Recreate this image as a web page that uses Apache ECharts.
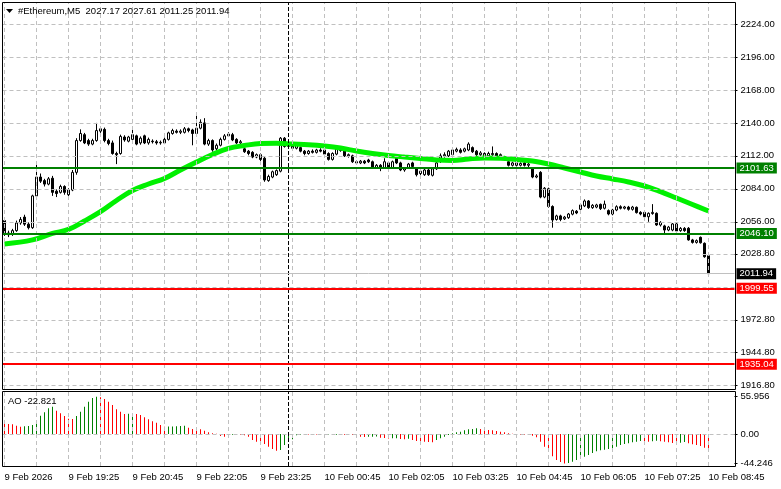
<!DOCTYPE html>
<html><head><meta charset="utf-8">
<script src="https://cdn.jsdelivr.net/npm/echarts@6/dist/echarts.min.js"></script>
<style>html,body{margin:0;padding:0;background:#fff}#c{width:781px;height:489px}</style>
</head><body><div id="c"></div>
<script>
const symbolName = '#Ethereum,M5';
const openPrices = [
2057,2046.5,2045.5,2048.5,2055,2060,2054,2051,2078,2094,
2091,2088,2093,2082,2081,2086,2079,2083,2098,2125,
2130,2125,2122,2125,2133,2134.5,2125,2123,2114,2114,
2128,2124.5,2126,2129,2123,2129,2123,2124.5,2124,2123,
2123,2126,2131,2133,2132,2132,2135,2134,2131,2135.5,
2140,2122,2125,2118,2121,2126,2129,2130,2126,2123,
2118,2116,2115,2111,2113,2110,2091,2094,2096,2099,
2127,2120,2122,2118.5,2119,2116,2114,2116,2115,2117,
2117,2114,2109,2113.5,2118,2117,2112,2112,2107,2106,
2107.5,2108.5,2107,2102,2104,2102,2106,2102,2110,2106,
2100,2102,2106,2101,2097,2096,2100,2095.5,2101,2110,
2112,2112,2113,2116,2117,2116,2117,2119,2116,2113,
2114,2112,2113,2114,2112,2111,2107,2104,2106,2104,
2106,2104,2101,2094,2098,2077,2084,2069,2058,2061,
2058.5,2059.5,2062.5,2065,2066.6,2069.5,2073.7,2068,2068.5,2070.8,
2067.5,2065.5,2062.6,2066,2068.8,2067.5,2068.5,2066.6,2068.3,2064,
2064,2060.3,2063,2063.2,2053.3,2052.5,2049,2049,2054.2,2048.5,
2050.4,2050.5,2040.6,2038.5,2042.8,2037.7,2027.17];
const closePrices = [
2046.3,2045,2048.5,2055,2058,2054,2051,2078,2094,2090.5,
2088,2092.5,2081,2080,2086,2081,2083,2098,2125,2131,
2123,2122,2125,2133.5,2135,2125,2122.5,2114,2113,2128.5,
2125.5,2128,2130,2122,2127,2123,2126,2124,2123,2123.5,
2126,2131.5,2133.5,2132,2133,2135,2133.5,2131,2135.5,2140.5,
2122,2125,2117,2121,2126,2129,2130.5,2125.5,2123,2124,
2115.5,2114,2111,2113,2109,2091.5,2094.5,2098.5,2099.5,2127,
2120,2122.5,2118.5,2121.5,2116,2114,2116,2115,2117,2116,
2113.5,2109,2114,2118,2116.5,2112,2113,2107,2106,2107.5,
2106,2107,2102,2104,2101.5,2107,2102,2107,2106,2100,
2101.5,2105,2103,2096,2099,2100,2096,2101,2106,2112,
2113,2116,2117,2117.5,2115,2118,2122,2115.5,2113,2114.5,
2112,2114,2114,2112,2113,2109,2104,2106,2104,2105.5,
2104,2105,2094,2095,2077,2084.5,2069,2057.5,2061,2058,
2060,2062.6,2065.5,2063.5,2070.3,2073.7,2068,2070,2070.3,2067.2,
2071,2062.6,2066,2068.8,2067.5,2068.6,2066.6,2068.5,2063.8,2062.6,
2060.3,2063.2,2064,2053.3,2055.5,2049,2051.5,2054.2,2048.2,2050.4,
2048.5,2040.6,2038.5,2040,2038.2,2026.3,2011.94];
const highPrices = [
2058,2048.5,2050,2057,2060,2062,2055.5,2079,2107,2097,
2092.5,2094,2095,2083.5,2087.5,2087,2084.5,2100,2127,2134.5,
2131.5,2126.5,2126.5,2140,2136,2136,2126.5,2125,2115.5,2130,
2129.5,2129,2135,2130,2128.5,2130,2127.5,2126,2125.5,2125,
2127.5,2132.5,2135,2134.5,2134.5,2136.5,2136,2135,2146,2143,
2144,2126.5,2126,2122.5,2127.5,2130.5,2132,2131.5,2127,2125.5,
2119.5,2117,2116,2114,2114,2111,2096,2099.5,2100.5,2128,
2128,2124,2123,2123,2120,2117,2117,2117.5,2118,2118.5,
2118,2115,2115,2119.5,2119,2118,2114,2113,2108,2108.5,
2108.5,2109.5,2108,2105,2105,2110,2107,2108,2111,2107,
2102.5,2106,2107,2102,2100,2101,2101,2102,2107,2114,
2115,2117,2118,2119,2118.5,2119,2123.5,2120,2117,2116,
2115,2115.5,2120,2115,2114,2112,2108,2107,2107,2106.5,
2107,2106,2102,2096.5,2099,2085.5,2085,2070,2062,2062,
2061,2063.5,2066.5,2066,2071.5,2075,2074.5,2071,2071.3,2071.5,
2074,2066.5,2067,2070,2070,2069.5,2069.5,2069.5,2069,2065,
2065,2064,2071,2064,2056.5,2053.5,2052.5,2055,2055,2051.5,
2051.5,2051.5,2041.5,2041,2043.5,2038.5,2027.61];
const lowPrices = [
2044,2043,2044,2047.5,2053.5,2052.5,2049.5,2050,2076.5,2089,
2086,2087,2078,2077,2080,2079,2075,2082,2096,2124,
2122,2120.5,2121,2124,2131.5,2123.5,2121,2113,2105,2113,
2124,2123.5,2125,2121,2121.5,2122,2121.5,2122.5,2121.5,2121.5,
2122,2125,2130,2131,2130.5,2131,2132,2121,2130,2134.5,
2121,2120.5,2115.5,2116.5,2120,2125,2128,2124.5,2122,2122,
2114.5,2112.5,2110,2110,2107.5,2090,2090,2093,2095,2098,
2119,2119,2117.5,2117.5,2115,2112.5,2113,2114,2114,2115,
2112.5,2108,2108,2112.5,2115.5,2111,2110.5,2106,2104.5,2105,
2105,2106,2101,2101,2099,2101,2099,2101,2105,2099,
2098.5,2101,2102,2094.5,2095.5,2095,2095,2094.5,2100,2106,
2110.5,2111,2112,2115,2114,2115,2116,2114.5,2112,2112,
2111,2111,2112,2111,2111,2108,2103,2103,2103,2103,
2103,2101,2093,2093,2076,2076,2068,2051,2057,2056.5,
2057.5,2058.5,2061.5,2062.5,2065.5,2068.5,2067,2067,2067.5,2066,
2066.5,2061.5,2061.5,2065,2066.5,2066.5,2065.5,2065.5,2063,2061.5,
2059.5,2056,2062,2052.5,2052,2045,2048,2048,2047.5,2047.5,
2047.5,2040,2037.5,2037.5,2037.5,2025.5,2011.25];
// moving average: [bar index, price]
const maPoints = [
[0,2037.2],[7,2040.6],[12,2046.1],[16,2049.5],[20,2056.7],[24,2064.6],[28,2074.1],[32,2082.6],
[36,2088.1],[40,2092.8],[44,2100],[48,2106.8],[52,2113.2],[56,2118.3],[60,2120.8],[64,2122.5],
[68,2122.7],[72,2122.1],[76,2121.5],[80,2120.4],[84,2118.7],[88,2116.1],[92,2114.0],[96,2112.3],
[100,2111.0],[104,2109.8],[108,2108.5],[112,2108.1],[116,2109.4],[120,2110.2],[124,2110.0],[128,2108.9],
[132,2107.6],[136,2105.1],[140,2101.7],[144,2098.3],[148,2094.9],[152,2092.4],[156,2089.8],[160,2086.4],
[164,2081.6],[168,2076.2],[172,2070.7],[176,2065.2]];
const aoValues = [
17.5,15,14.8,12.5,11,11.5,12,13.5,20,27.5,
32.5,38.5,41,35,31,27,23,22.5,27,33.5,
41,48.5,54,55.956,55,52.5,48.5,43.5,37,33.5,
30,30.5,31,30,28.5,25,22,19,17,13.5,
11,11.2,11.4,11.6,12,12.2,9.5,7.5,7.3,7,
5,2.5,1,0.2,-3,-4,-1.5,-1,-0.8,-1.2,
-2,-4,-9,-11.5,-12.5,-15,-19,-22.5,-25,-24,
-16.5,-10,-8,-2,-1,-0.5,-0.8,-0.6,-0.9,-0.7,
-1,-0.8,-1.2,-1,-0.9,-1.1,-1,-1.5,-3,-4,
-4.5,-4.2,-4,-3.8,-5.5,-6,-6.8,-6.5,-6.3,-7.5,
-7.7,-7,-9,-10.5,-11.5,-11.8,-12,-12.3,-9,-6.5,
-4,-1.5,1,2.5,3.5,5.5,7,7.5,8.5,7.5,
7,6,5.5,4.5,3.5,2.5,1,0.3,-0.5,-1,
-1.3,-0.8,-2.5,-5,-11.5,-19,-26.5,-33.5,-39,-42,
-44.246,-43.5,-41.5,-39,-36.5,-34,-31.5,-28.5,-26,-24.5,
-23.5,-22.5,-21.5,-19,-16.5,-15,-14,-12.5,-11.5,-10.5,
-11.2,-11.5,-10.8,-10,-10.8,-11.5,-12.5,-13.5,-14,-13,
-12,-14,-15.5,-16.5,-18,-20.5,-22.821];
const priceTicks = [2224,2196,2168,2140,2112,2084,2056,2028.8,1972.8,1944.8,1916.8];
const priceGridLines = [2224,2196,2168,2140,2112,2084,2056,2028.8,2000.8,1972.8,1944.8,1916.8];
const aoTicks = [55.956,0,-44.246];
const aoTickLabels = ['55.956','0.00','-44.246'];
const timeLabels = ['9 Feb 2026','9 Feb 19:25','9 Feb 20:45','9 Feb 22:05','9 Feb 23:25','10 Feb 00:45',
  '10 Feb 02:05','10 Feb 03:25','10 Feb 04:45','10 Feb 06:05','10 Feb 07:25','10 Feb 08:45'];
const timeLabelEvery = 16;
const gridEvery = 8;
const daySeparatorBar = 71;
const greenLevels = [2101.63, 2046.10];
const redLevels = [1999.55, 1935.04];
const bidPrice = 2011.94;
const emptyRightBars = 6;

const nBars = openPrices.length;
const nSlots = nBars + emptyRightBars;
const cats = Array.from({length:nSlots},(_,i)=>String(i));
const candleData = openPrices.map((o,i)=>[o, closePrices[i], lowPrices[i], highPrices[i]]);
const vGrid = [];
for (let i=0;i<nSlots;i+=gridEvery) vGrid.push({xAxis:i});
const FONT = 'Liberation Sans, Arial, sans-serif';
const GRID_STYLE = {color:'#c0c0c0', width:1, type:[4,3]};
const SEP_STYLE = {color:'#000', width:1, type:[4,2]};

const levelLine = (v, col, w) => ({
  yAxis: v,
  lineStyle: {color: col, width: w, type:'solid'},
  label: {show:true, position:'end', distance:2, formatter: () => v.toFixed(2),
    color:'#fff', backgroundColor: col === '#c0c0c0' ? '#000' : col, padding:[1,3,0,3],
    fontSize:9.5, lineHeight:10, fontFamily:FONT}
});

const chart = echarts.init(document.getElementById('c'), null, {renderer:'canvas'});
const last = nBars - 1;
chart.setOption({
  animation:false,
  backgroundColor:'#fff',
  grid:[
    {left:2.5, top:2, width:732, height:387},
    {left:2.5, top:391, width:732, height:75}
  ],
  xAxis:[
    {type:'category', gridIndex:0, data:cats, boundaryGap:true,
      axisLine:{show:false}, axisTick:{show:false}, axisLabel:{show:false}, splitLine:{show:false}},
    {type:'category', gridIndex:1, data:cats, boundaryGap:true,
      axisLine:{show:false}, axisTick:{show:false}, splitLine:{show:false},
      axisLabel:{show:true, interval:(idx)=> idx % timeLabelEvery === 0 && idx/timeLabelEvery < timeLabels.length,
        formatter:(val, idx)=> timeLabels[idx/timeLabelEvery] || '',
        align:'left', margin:6, color:'#000', fontSize:9.5, fontFamily:FONT}}
  ],
  yAxis:[
    {type:'value', gridIndex:0, position:'right', min:1913.99, max:2242.68,
      axisLine:{show:false}, splitLine:{show:false},
      axisTick:{show:true, length:3, customValues:priceTicks, lineStyle:{color:'#000'}},
      axisLabel:{show:true, customValues:priceTicks, formatter:(v)=>Number(v).toFixed(2),
        margin:6, color:'#000', fontSize:9.5, fontFamily:FONT}},
    {type:'value', gridIndex:1, position:'right', min:-48, max:64.5,
      axisLine:{show:false}, splitLine:{show:false},
      axisTick:{show:true, length:3, customValues:aoTicks, lineStyle:{color:'#000'}},
      axisLabel:{show:true, customValues:aoTicks,
        formatter:(v)=>{const k=aoTicks.findIndex(t=>Math.abs(t-v)<1e-6);return k>=0?aoTickLabels[k]:String(v);},
        margin:6, color:'#000', fontSize:9.5, fontFamily:FONT}}
  ],
  graphic:[
    {type:'rect', shape:{x:2.5,y:2.5,width:733,height:387}, style:{fill:'none',stroke:'#000',lineWidth:1}, z:100, silent:true},
    {type:'rect', shape:{x:2.5,y:391.5,width:733,height:75}, style:{fill:'none',stroke:'#000',lineWidth:1}, z:100, silent:true},
    {type:'polygon', shape:{points:[[6,9],[13,9],[9.5,13]]}, style:{fill:'#000'}, z:100, silent:true},
    {type:'text', x:18, y:11, style:{text: symbolName+'  '+openPrices[last].toFixed(2)+' '+highPrices[last].toFixed(2)+' '+lowPrices[last].toFixed(2)+' '+closePrices[last].toFixed(2),
      fill:'#000', font:'9.5px '+FONT, verticalAlign:'middle'}, z:100, silent:true},
    {type:'text', x:8, y:401, style:{text:'AO '+aoValues[last].toFixed(3), fill:'#000', font:'9.5px '+FONT, verticalAlign:'middle'}, z:100, silent:true}
  ],
  series:[
    {type:'line', xAxisIndex:0, yAxisIndex:0, data:[], z:1, silent:true,
      markLine:{silent:true, symbol:['none','none'], label:{show:false}, animation:false,
        data:[...priceGridLines.map(v=>({yAxis:v, lineStyle:GRID_STYLE})),
              ...vGrid.map(d=>({xAxis:d.xAxis, lineStyle:GRID_STYLE})),
              {xAxis:daySeparatorBar, lineStyle:SEP_STYLE}]}},
    {type:'line', xAxisIndex:1, yAxisIndex:1, data:[], z:1, silent:true,
      markLine:{silent:true, symbol:['none','none'], label:{show:false}, animation:false,
        data:[{yAxis:0, lineStyle:GRID_STYLE},
              ...vGrid.map(d=>({xAxis:d.xAxis, lineStyle:GRID_STYLE})),
              {xAxis:daySeparatorBar, lineStyle:SEP_STYLE}]}},
    {type:'candlestick', xAxisIndex:0, yAxisIndex:0, data:candleData, barWidth:3, z:2,
      itemStyle:{color:'#fff', color0:'#000', borderColor:'#000', borderColor0:'#000', borderWidth:1}},
    {type:'line', xAxisIndex:0, yAxisIndex:0, data:[], z:3, silent:true,
      markLine:{silent:true, symbol:['none','none'], animation:false,
        data:[levelLine(bidPrice,'#c0c0c0',1),
              ...greenLevels.map(v=>levelLine(v,'#008000',2)),
              ...redLevels.map(v=>levelLine(v,'#ff0000',2))]}},
    {type:'line', xAxisIndex:0, yAxisIndex:0, data:maPoints, smooth:0.4, showSymbol:false, z:4, silent:true,
      lineStyle:{color:'#00f000', width:5}},
    {type:'bar', xAxisIndex:1, yAxisIndex:1, barWidth:1, z:2, silent:true,
      data:aoValues.map((v,i)=>({value:v, itemStyle:{color:(i>0 && v>aoValues[i-1]) ? '#008000' : '#ff0000'}}))}
  ]
});
</script></body></html>
